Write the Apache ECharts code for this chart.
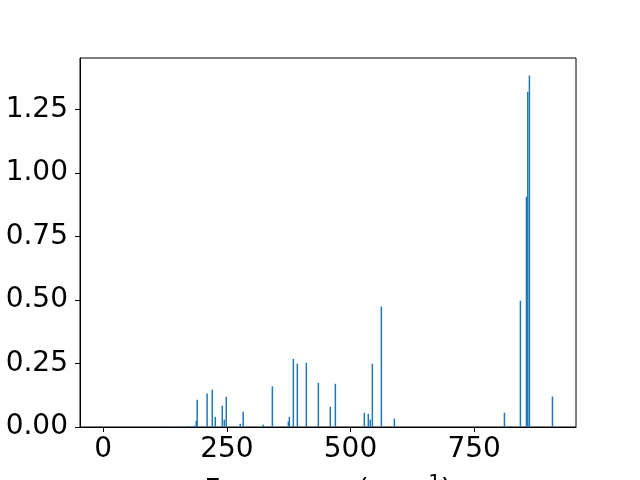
<!DOCTYPE html>
<html><head><meta charset="utf-8">
<script src="https://cdn.jsdelivr.net/npm/echarts@6/dist/echarts.min.js"></script>
<style>html,body{margin:0;padding:0;background:#fff}#c{width:640px;height:480px}</style>
</head><body><div id="c"></div>
<script>
const freqs = [0, 126, 156, 172, 184, 188, 190, 210, 220.5, 226.6, 240.7, 244.8, 248.8, 277, 283, 323.7, 342, 374.3, 376.3, 384.4, 392.5, 410.7, 435, 459.2, 469.4, 528, 536, 540, 544.2, 562.4, 588.7, 811.3, 823.4, 843.6, 855.8, 858.5, 861.8, 908.4];
const intensities = [0, 0.003, 0.003, 0.004, 0.005, 0.025, 0.107, 0.132, 0.147, 0.040, 0.084, 0.029, 0.119, 0.013, 0.060, 0.009, 0.160, 0.021, 0.040, 0.268, 0.249, 0.253, 0.174, 0.080, 0.170, 0.056, 0.052, 0.029, 0.249, 0.474, 0.033, 0.056, 0.004, 0.497, 0.906, 1.319, 1.383, 0.120];
const xTicks = [0, 250, 500, 750];
const yTicks = [0, 0.25, 0.5, 0.75, 1.0, 1.25];

const font = '"DejaVu Sans", sans-serif';
const chart = echarts.init(document.getElementById('c'), null, {renderer: 'canvas'});
chart.setOption({
  animation: false,
  grid: {left: 80, right: 64, top: 58, bottom: 53, show: true, borderColor: '#000', borderWidth: 1, containLabel: false, outerBoundsMode: 'none'},
  xAxis: {
    type: 'value', min: -47, max: 956,
    name: '{a|Frequency (cm}{s|−1}{a|)}',
    nameLocation: 'middle', nameGap: 46,
    nameTextStyle: {rich: {a: {fontSize: 28, fontFamily: font, color: '#000'}, s: {fontSize: 20, fontFamily: font, color: '#000', verticalAlign: 'bottom', padding: [0, 0, 18, 0]}}},
    axisLine: {show: true, onZero: false, lineStyle: {color: '#000', width: 1}},
    axisTick: {show: true, length: 5, lineStyle: {color: '#000'}, customValues: xTicks},
    axisLabel: {fontSize: 28, fontFamily: font, color: '#000', margin: 9, customValues: xTicks},
    splitLine: {show: false}
  },
  yAxis: {
    type: 'value', min: 0, max: 1.452,
    axisLine: {show: true, onZero: false, lineStyle: {color: '#000', width: 1}},
    axisTick: {show: true, length: 5, lineStyle: {color: '#000'}, customValues: yTicks},
    axisLabel: {fontSize: 28, fontFamily: font, color: '#000', margin: 12, customValues: yTicks, formatter: v => v.toFixed(2)},
    splitLine: {show: false}
  },
  series: [{
    type: 'bar',
    data: freqs.map((f, i) => [f, intensities[i]]),
    barWidth: 1.5,
    itemStyle: {color: '#1f77b4'}
  }]
});
</script></body></html>
